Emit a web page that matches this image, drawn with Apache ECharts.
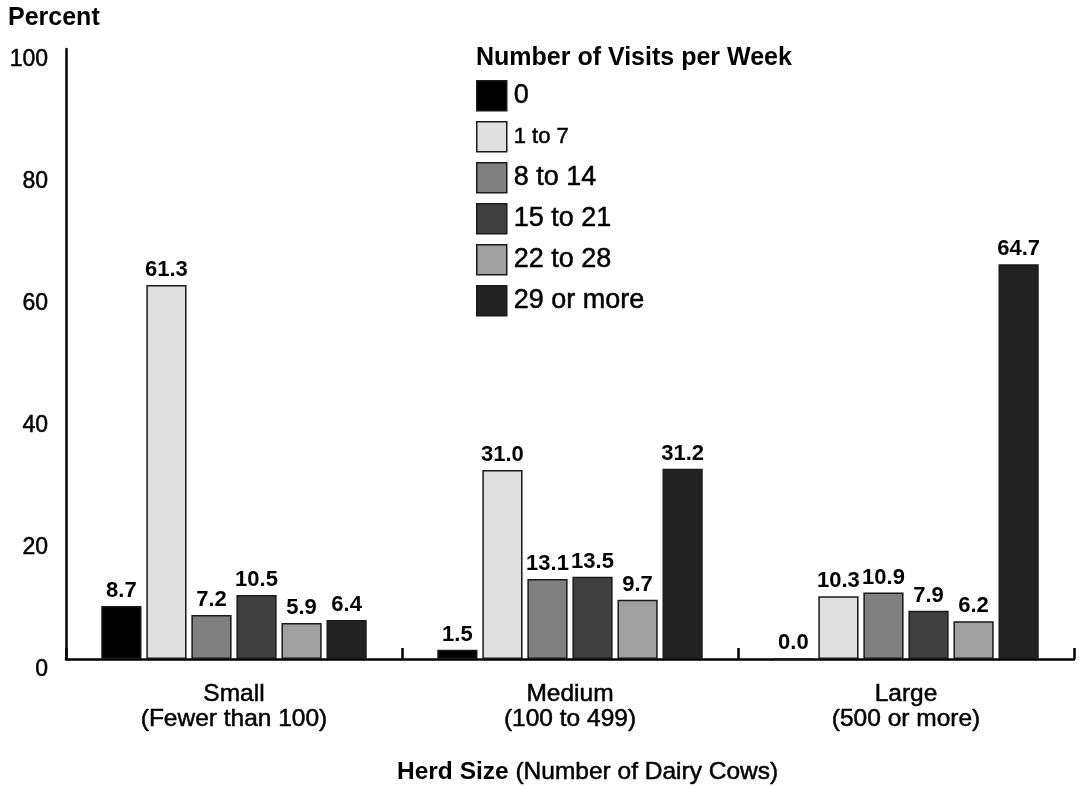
<!DOCTYPE html>
<html>
<head>
<meta charset="utf-8">
<title>Visits per Week by Herd Size</title>
<script src="https://cdn.jsdelivr.net/npm/echarts@6/dist/echarts.min.js"></script>
<style>
  html, body { margin: 0; padding: 0; background: #ffffff; }
  #chart { width: 1079px; height: 786px; }
</style>
</head>
<body>
<div id="chart"></div>
<script>
// Herd-size categories (two-line axis labels)
const herdSizes = ['Small\n(Fewer than 100)', 'Medium\n(100 to 499)', 'Large\n(500 or more)'];

// Visit-frequency groups shown in the legend
const visitGroups = ['0', '1 to 7', '8 to 14', '15 to 21', '22 to 28', '29 or more'];

// Percent of operations, one array per visit group (Small, Medium, Large)
const visits0      = [8.7, 1.5, 0.0];
const visits1to7   = [61.3, 31.0, 10.3];
const visits8to14  = [7.2, 13.1, 10.9];
const visits15to21 = [10.5, 13.5, 7.9];
const visits22to28 = [5.9, 9.7, 6.2];
const visits29plus = [6.4, 31.2, 64.7];

// Y-axis scale
const yMin = 0;
const yMax = 100;
const yStep = 20;

const seriesValues = [visits0, visits1to7, visits8to14, visits15to21, visits22to28, visits29plus];
const fills = ['#000000', '#e0e0e0', '#808080', '#404040', '#a0a0a0', '#222222'];

const FONT = '"Liberation Sans", Arial, Helvetica, sans-serif';
// a thin outline in the text colour gives the regular text a slightly heavier stroke
const heavy = { textBorderColor: '#000', textBorderWidth: 0.5 };

const chart = echarts.init(document.getElementById('chart'), null, { renderer: 'canvas' });

const series = visitGroups.map((name, i) => ({
  name: name,
  type: 'bar',
  data: seriesValues[i],
  barCategoryGap: '21%',
  barGap: '12%',
  itemStyle: {
    color: fills[i],
    borderColor: '#1a1a1a',
    borderWidth: 1.5
  },
  label: {
    show: true,
    position: 'top',
    distance: 4,
    color: '#000',
    fontFamily: FONT,
    fontWeight: 'bold',
    fontSize: 22,
    formatter: p => Number(p.value).toFixed(1)
  }
}));

chart.setOption({
  animation: false,
  backgroundColor: '#ffffff',
  textStyle: { fontFamily: FONT, color: '#000' },
  title: {
    text: 'Number of Visits per Week',
    left: 476,
    top: 46,
    padding: 0,
    textStyle: { fontFamily: FONT, fontWeight: 'bold', fontSize: 25, color: '#000' }
  },
  legend: {
    orient: 'vertical',
    left: 476,
    top: 80,
    padding: 0,
    itemWidth: 30,
    itemHeight: 30,
    itemGap: 9.5,
    icon: 'rect',
    data: visitGroups,
    itemStyle: { borderColor: '#1a1a1a', borderWidth: 1.5 },
    formatter: name => name === '1 to 7' ? '{s|' + name + '}' : '{b|' + name + '}',
    textStyle: {
      fontFamily: FONT,
      color: '#000',
      padding: [0, 0, 0, 2],
      rich: {
        b: Object.assign({ fontFamily: FONT, fontSize: 27, color: '#000' }, heavy),
        s: Object.assign({ fontFamily: FONT, fontSize: 22, color: '#000' }, heavy)
      }
    }
  },
  grid: {
    left: 66,
    right: 5,
    top: 49,
    bottom: 127,
    containLabel: false
  },
  xAxis: {
    type: 'category',
    data: herdSizes,
    axisLine: { show: true, lineStyle: { color: '#000', width: 2.5 } },
    axisTick: { show: true, inside: true, length: 11, lineStyle: { color: '#000', width: 2.5 } },
    axisLabel: Object.assign({
      fontFamily: FONT,
      fontSize: 24.5,
      color: '#000',
      lineHeight: 25,
      margin: 23
    }, heavy),
    splitLine: { show: false }
  },
  yAxis: {
    type: 'value',
    min: yMin,
    max: yMax,
    interval: yStep,
    axisLine: { show: true, lineStyle: { color: '#000', width: 2.5 } },
    axisTick: { show: false },
    splitLine: { show: false },
    axisLabel: Object.assign({
      fontFamily: FONT,
      fontSize: 23,
      color: '#000',
      margin: 18,
      verticalAlign: 'top',
      lineHeight: 22
    }, heavy)
  },
  graphic: [
    {
      type: 'text',
      left: 8,
      top: 6,
      style: {
        text: 'Percent',
        font: 'bold 25px ' + FONT,
        fill: '#000'
      }
    },
    {
      type: 'text',
      left: 397,
      top: 759,
      style: {
        text: '{b|Herd Size }{n|(Number of Dairy Cows)}',
        fill: '#000',
        rich: {
          b: { fontFamily: FONT, fontWeight: 'bold', fontSize: 24.5, fill: '#000' },
          n: { fontFamily: FONT, fontSize: 24.5, fill: '#000', stroke: '#000', lineWidth: 0.5 }
        }
      }
    }
  ],
  series: series
});
</script>
</body>
</html>
